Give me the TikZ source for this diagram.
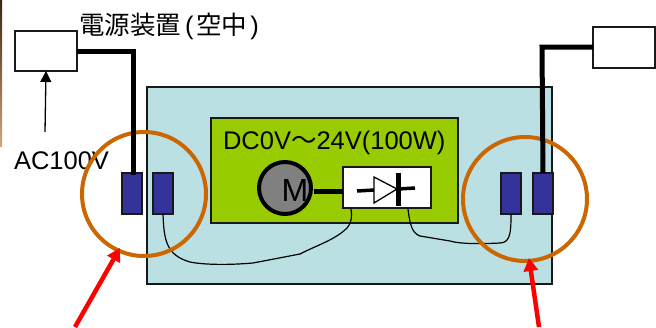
\documentclass[tikz,border=0pt]{standalone}
\usepackage{fontspec}
\setmainfont{Liberation Sans}
\newfontfamily\cjk{Noto Sans CJK JP}
\usetikzlibrary{arrows.meta}
\definecolor{panelblue}{HTML}{BBE0E3}
\definecolor{boardgreen}{HTML}{99CC00}
\definecolor{termblue}{HTML}{333399}
\definecolor{ringorange}{HTML}{CC6600}
\begin{document}
\begin{tikzpicture}[x=1pt,y=-1pt,
    every node/.style={inner sep=0pt,outer sep=0pt,font=\fontsize{25.5}{25.5}\selectfont},
    box/.style={draw=black!90,line width=1.8pt,anchor=north west},
    term/.style={box,fill=termblue,minimum width=20pt,minimum height=41pt},
    ring/.style={circle,draw=ringorange,line width=4pt,minimum size=124pt},
    heavy/.style={line width=5pt},
    wire/.style={line width=1.2pt},
    pointer/.style={draw=red,line width=4.5pt,-{Triangle[length=13pt,width=14pt]}}]
    \useasboundingbox (0,0) rectangle (656,327);
    \shade [top color=black!70!brown,bottom color=brown!70!white] (0,0) rectangle (2,146);
    \node [box,fill=panelblue,minimum width=405pt,minimum height=197pt] (P0) at (147,87) {};
    \node [box,fill=boardgreen,minimum width=247pt,minimum height=105pt] (G0) at (211,118) {};
    \node [box,fill=white,minimum width=62pt,minimum height=40pt] (S1) at (15,31) {};
    \node [box,fill=white,minimum width=62pt,minimum height=41pt] (S2) at (593,27) {};
    \node [box,fill=white,minimum width=88pt,minimum height=41pt] (D0) at (343,167) {};
    \node [term] (T1) at (122,173) {};
    \node [term] (T2) at (153,173) {};
    \node [term] (T3) at (501,173) {};
    \node [term] (T4) at (533,173) {};
    \node [anchor=west] (L1) at (79,26) {{\cjk 電源装置}\hspace{4pt}(\hspace{3pt}{\cjk 空中}\hspace{3pt})};
    \node [anchor=west] (L2) at (14,161) {AC100V};
    \node [anchor=west] (L3) at (223,143) {DC0V{\cjk ～}24V(100W)};
    \node [circle,draw=black,fill=black!50,line width=4pt,minimum size=52pt] (M0) at (285,188) {};
    \node [font=\fontsize{32}{32}\selectfont] (M1) at (295,190) {M};
    % diode
    \coordinate (A0) at (374,190);
    \coordinate (C0) at (398,189);
    \draw [line width=3.5pt] (357,191) -- (A0);
    \draw [line width=1.3pt,fill=white] (374,177) -- (397,189) -- (374,203) -- cycle;
    \draw [heavy] (398,173) -- (398,206);
    \draw [line width=3.5pt] (C0) -- (415,188);
    \draw [heavy] (M0.east) ++(3,3) -- (D0.west |- 0,191);
    % thin wires
    \draw [wire] (T2.south) .. controls (164,240) and (166,255) .. (190,262) .. controls (205,265) and (230,265) .. (253,263) -- (300,254) .. controls (315,246) and (335,240) .. (347,228) .. controls (352,222) and (352,216) .. (351,209);
    \draw [wire] (408,209) .. controls (410,225) and (412,233) .. (420,236) -- (450,241) .. controls (460,244) and (480,244) .. (500,243) .. controls (511,243) and (511,230) .. (T3.south);
    \node [ring] (R1) at (144,194) {};
    \node [ring] (R2) at (525,199) {};
    % supply lines
    \draw [heavy] (S1.east |- 0,51) -- (133,51) -- (133,175);
    \draw [heavy] (S2.west |- 0,47) -- (542,47) -- (T4.north);
    % pointers
    \coordinate (E1) at (45,132);
    \coordinate (E2) at (75,327);
    \coordinate (E3) at (539,327);
    \draw [line width=1.3pt,-{Triangle[length=11pt,width=11pt]}] (E1) -- (S1.south -| 46,0);
    \draw [pointer] (E2) -- (120,248);
    \draw [pointer] (E3) -- (529,258);
\end{tikzpicture}
\end{document}
